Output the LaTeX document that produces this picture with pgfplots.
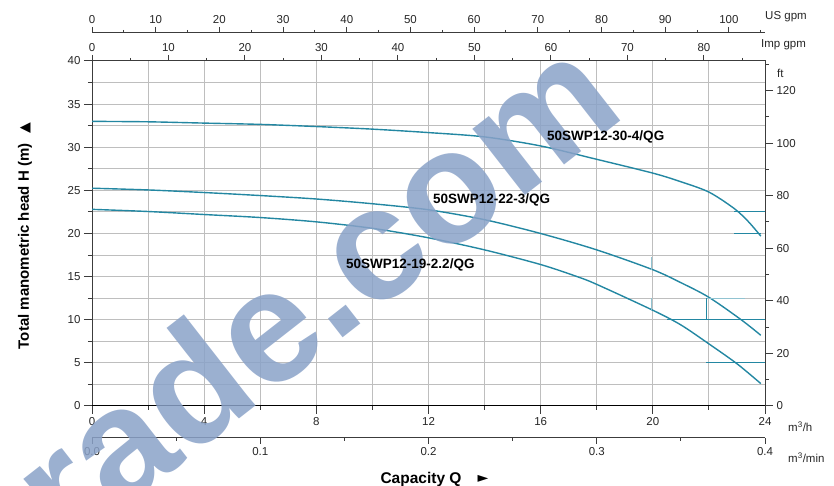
\documentclass[border=0pt]{standalone}
\usepackage{pgfplots}
\pgfplotsset{compat=1.18}
\usepackage{fontspec}
\setmainfont{Liberation Sans}
\newfontfamily\symfont{DejaVu Sans}
\definecolor{crv}{RGB}{35,135,162}
\definecolor{gridc}{RGB}{190,190,190}
\definecolor{axc}{RGB}{60,60,60}
\definecolor{wm}{RGB}{138,162,200}
\pgfplotsset{
  base/.style={scale only axis,width=673pt,
    tick align=outside, major tick length=8pt, minor tick length=4pt,
    axis line style={draw=axc,line width=1pt},
    tick style={draw=axc,line width=1pt},
    tick label style={font=\fontsize{11.5}{13}\selectfont,text=black!85},
    /pgf/number format/assume math mode=true},
}
\begin{document}
\begin{tikzpicture}[x=1pt,y=1pt]
% main axis: Q in m3/h, H in m
\begin{axis}[base,at={(0pt,0pt)},anchor=south west,height=345pt,
  xmin=0,xmax=24,ymin=0,ymax=40,
  xtick={0,4,...,24}, minor xtick={2,6,...,22},
  ytick={0,5,...,40}, minor ytick={2.5,7.5,...,37.5},
  xtick pos=bottom, ytick pos=left,
  grid=both, grid style={draw=gridc,line width=1pt},
  major grid style={draw=gridc,line width=1pt},
  minor grid style={draw=gridc,line width=1pt}]
\addplot[crv,line width=1.4pt,smooth] coordinates {(0,33.0) (2,32.95) (4,32.8) (6,32.65) (8,32.4) (10,32.1) (12,31.7) (14,31.2) (16,30.15) (18,28.6) (20,27.0) (21,26.0) (22,24.8) (22.9,22.9) (23.4,21.4) (23.85,19.7)};
\addplot[crv,line width=1.4pt,smooth] coordinates {(0,25.25) (2,25.05) (4,24.75) (6,24.4) (8,24.0) (10,23.45) (12,22.75) (14,21.6) (16,20.0) (18,18.1) (20,15.8) (21,14.3) (22,12.6) (23.15,10.0) (23.85,8.2)};
\addplot[crv,line width=1.4pt,smooth] coordinates {(0,22.8) (2,22.55) (4,22.2) (6,21.85) (8,21.35) (10,20.6) (12,19.5) (14,18.1) (16,16.4) (17.3,15.0) (18,14.1) (20,11.1) (21,9.4) (22,7.2) (23,4.9) (23.85,2.6)};
% efficiency marker lines
\addplot[crv,line width=1pt] coordinates {(22.9,22.5) (24,22.5)};
\addplot[crv,line width=1pt] coordinates {(22.9,19.95) (23.85,19.95)};
\addplot[crv,line width=1pt] coordinates {(20.5,10) (24,10)};
\addplot[crv,line width=1pt] coordinates {(21.92,10) (21.92,12.5)};
\addplot[crv,line width=1pt] coordinates {(21.9,5) (24,5)};
\addplot[crv!50,line width=0.8pt] coordinates {(21.92,12.5) (23.3,12.5)};
\addplot[crv!50,line width=0.8pt] coordinates {(19.96,15.8) (19.96,17.3)};
\addplot[crv!50,line width=0.8pt] coordinates {(19.96,11.1) (19.96,12.5)};
\draw[black,line width=1.6pt] (axis cs:0,0) -- (axis cs:24,0);
\end{axis}
% right axis: ft
\begin{axis}[base,at={(0pt,0pt)},anchor=south west,height=345pt,
  xmin=0,xmax=24,ymin=0,ymax=131.234,
  hide x axis, axis y line*=right,
  ytick={0,20,...,120}, minor ytick={10,30,...,130}]
\end{axis}
% top axis: Imp gpm
\begin{axis}[base,at={(0pt,0pt)},anchor=south west,height=345pt,
  xmin=0,xmax=87.987,ymin=0,ymax=1,
  hide y axis, axis x line*=top, major tick length=6pt, minor tick length=3pt,
  xtick={0,10,...,80}, minor xtick={5,15,...,85}]
\end{axis}
% top axis: US gpm
\begin{axis}[base,at={(0pt,372pt)},anchor=south west,height=1pt,
  xmin=0,xmax=105.669,ymin=0,ymax=1,
  hide y axis, axis x line*=top, major tick length=6pt, minor tick length=3pt,
  xtick={0,10,...,100}, minor xtick={5,15,...,105}]
\end{axis}
% bottom axis: m3/min
\begin{axis}[base,at={(0pt,-32pt)},anchor=south west,height=1pt,
  xmin=0,xmax=0.4,ymin=0,ymax=1,
  hide y axis, axis x line*=bottom, major tick length=6pt, minor tick length=3pt,
  xtick={0,0.1,0.2,0.3,0.4}, minor xtick={0.05,0.15,0.25,0.35},
  xticklabel style={/pgf/number format/.cd,fixed,fixed zerofill,precision=1}]
\end{axis}
% watermark
\node[rotate=38,text=wm,opacity=0.85,font=\bfseries\fontsize{160}{160}\selectfont,
  inner sep=0pt,text height=120pt,text depth=10pt] (wm) at (247,135) {ade.com};
\node[rotate=38,text=wm,opacity=0.85,font=\bfseries\fontsize{160}{160}\selectfont,
  inner sep=0pt,text height=120pt,text depth=10pt,anchor=east] at (wm.west) {tr};
% curve labels
\begin{scope}[every node/.style={font=\bfseries\fontsize{13.5}{15}\selectfont,anchor=west,inner sep=0pt}]
\node at (455,269) {50SWP12-30-4/QG};
\node at (341,206) {50SWP12-22-3/QG};
\node at (254,141) {50SWP12-19-2.2/QG};
\end{scope}
% unit labels
\begin{scope}[every node/.style={font=\fontsize{11.5}{13}\selectfont,anchor=west,inner sep=0pt,text=black!85}]
\node at (673,389) {US gpm};
\node at (669,361) {Imp gpm};
\node at (685,333) {ft};
\node at (696,-21) {m\textsuperscript{3}/h};
\node at (696,-52) {m\textsuperscript{3}/min};
\end{scope}
% axis titles
\node[font=\bfseries\fontsize{15.5}{17}\selectfont,inner sep=0pt] at (329,-73) {Capacity Q};
\node[font=\symfont\fontsize{14}{15}\selectfont,inner sep=0pt] at (391,-73) {►};
\node[font=\bfseries\fontsize{15}{17}\selectfont,inner sep=0pt,rotate=90] at (-67,170) {Total manometric head H (m)\hspace{10pt}{\symfont\fontsize{14}{15}\selectfont ▲}};
\pgfresetboundingbox
\path[use as bounding box] (-92,-80) rectangle (742,406);
\end{tikzpicture}
\end{document}
